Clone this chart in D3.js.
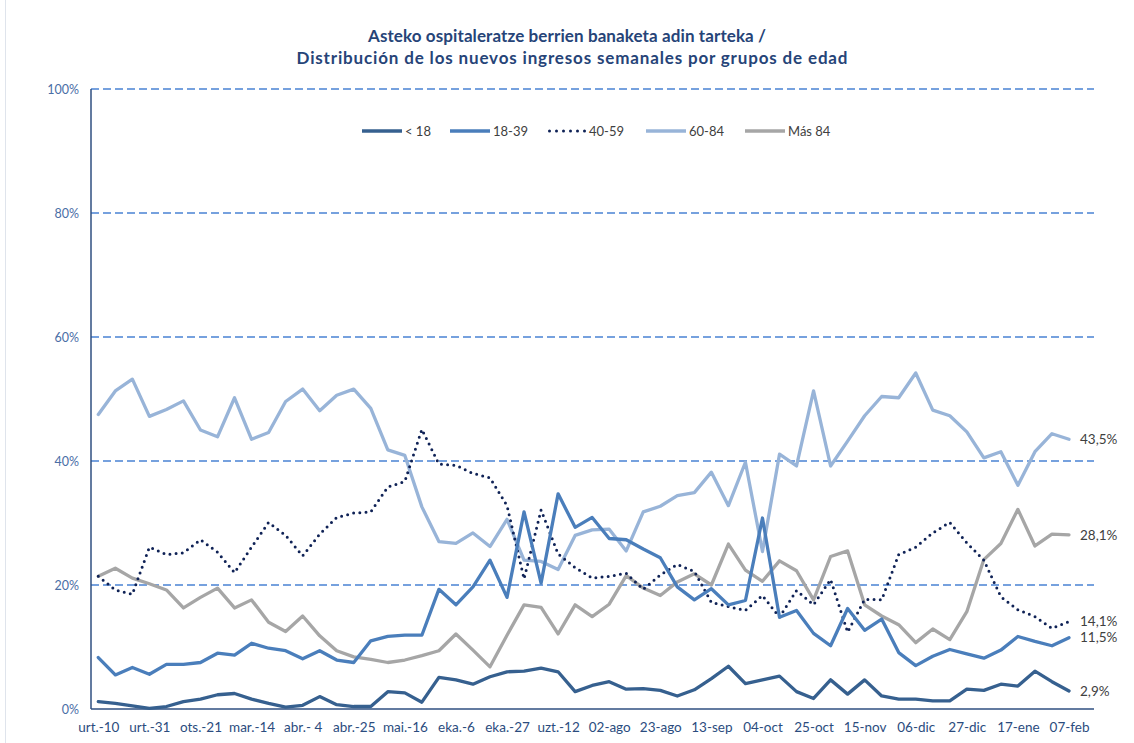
<!DOCTYPE html>
<html>
<head>
<meta charset="utf-8">
<script src="https://cdn.jsdelivr.net/npm/d3@7/dist/d3.min.js"></script>
<style>
  html, body { margin: 0; padding: 0; background: #ffffff; }
  svg { display: block; }
  text { font-family: "Lato", "Open Sans", sans-serif; }
</style>
</head>
<body>
<svg id="chart" width="1134" height="743"></svg>
<script>
// ---- DATA ----
const tickLabels = ["urt.-10","urt.-31","ots.-21","mar.-14","abr.- 4","abr.-25","mai.-16","eka.-6","eka.-27","uzt.-12",
  "02-ago","23-ago","13-sep","04-oct","25-oct","15-nov","06-dic","27-dic","17-ene","07-feb"];
const seriesNames = ["< 18", "18-39", "40-59", "60-84", "Más 84"];
const lt18 = [1.2,0.9,0.5,0.1,0.4,1.2,1.6,2.3,2.5,1.6,0.9,0.3,0.6,2.0,0.7,0.4,0.4,
  2.8,2.6,1.1,5.1,4.7,4.0,5.2,6.0,6.1,6.6,6.0,2.8,3.8,4.4,3.2,3.3,3.0,2.1,
  3.1,4.9,6.9,4.1,4.7,5.3,2.8,1.7,4.7,2.4,4.7,2.1,1.6,1.6,1.3,1.3,3.2,3.0,4.0,
  3.7,6.1,4.4,2.9];
const a18_39 = [8.3,5.5,6.7,5.6,7.2,7.2,7.5,9.0,8.7,10.6,9.8,9.4,8.1,9.4,7.9,7.5,11.0,
  11.7,11.9,11.9,19.3,16.8,19.7,24.0,18.0,31.8,20.3,34.7,29.3,30.9,27.5,27.3,25.8,24.4,19.7,
  17.6,19.4,16.8,17.5,30.8,14.8,15.9,12.2,10.2,16.2,12.7,14.5,9.1,7.0,8.5,9.6,8.9,8.2,9.5,
  11.7,10.9,10.2,11.5];
const a40_59 = [21.4,19.2,18.5,26.1,24.9,25.2,27.3,25.3,22.0,26.1,30.1,28.0,24.7,28.2,30.9,31.6,31.8,
  35.8,36.7,45.1,39.5,39.3,38.0,37.3,32.8,21.0,32.1,25.0,22.8,21.1,21.4,21.9,19.3,21.6,23.3,
  22.2,17.2,16.5,15.9,18.3,14.8,19.1,16.8,20.9,12.4,17.7,17.6,24.9,26.1,28.4,30.1,26.8,24.0,18.1,
  16.0,14.9,13.0,14.1];
const a60_84 = [47.5,51.3,53.2,47.2,48.3,49.7,45.0,43.9,50.2,43.5,44.6,49.6,51.6,48.1,50.6,51.6,48.5,
  41.8,40.9,32.6,27.0,26.7,28.4,26.2,30.6,24.0,23.8,22.5,28.0,28.9,29.0,25.5,31.8,32.7,34.4,
  34.9,38.2,32.8,39.8,25.4,41.1,39.2,51.3,39.2,43.2,47.3,50.4,50.2,54.2,48.2,47.3,44.7,40.5,41.5,
  36.1,41.5,44.4,43.5];
const mas84 = [21.4,22.7,21.1,20.2,19.2,16.3,18.0,19.5,16.3,17.6,14.0,12.5,15.0,11.8,9.4,8.4,8.0,
  7.5,7.9,8.6,9.4,12.1,9.5,6.8,11.9,16.8,16.4,12.1,16.8,14.9,16.9,21.5,19.5,18.3,20.5,
  21.8,20.0,26.6,22.4,20.6,23.9,22.3,17.6,24.6,25.5,16.8,15.0,13.6,10.7,12.9,11.2,15.7,24.1,26.7,
  32.2,26.3,28.2,28.1];
const endLabels = ["2,9%", "11,5%", "14,1%", "43,5%", "28,1%"];
const yTicks = [0, 20, 40, 60, 80, 100];
const labelEvery = 3;

// ---- STYLE / LAYOUT ----
const colors = ["#36608f", "#4a7ebb", "#0f2256", "#98b4d8", "#a6a6a6"];
const allSeries = [lt18, a18_39, a40_59, a60_84, mas84];

const svg = d3.select("#chart");
const plot = { left: 91, right: 1094, top: 89, bottom: 709 };
const nPts = lt18.length;

const x = d3.scaleLinear().domain([0, nPts - 1]).range([98.3, 1069]);
const y = d3.scaleLinear().domain([0, 100]).range([plot.bottom, plot.top]);

// faint outer border line
svg.append("line").attr("x1", 5.5).attr("x2", 5.5).attr("y1", 0).attr("y2", 743)
  .attr("stroke", "#dfe4ec").attr("stroke-width", 1);

// title
const title = svg.append("text").attr("text-anchor", "middle")
  .attr("font-size", 17).attr("font-weight", "bold").attr("fill", "#264478");
title.append("tspan").attr("x", 567).attr("y", 42).attr("textLength", 398).attr("lengthAdjust", "spacing")
  .text("Asteko ospitaleratze berrien banaketa adin tarteka /");
title.append("tspan").attr("x", 572).attr("y", 64).attr("textLength", 551).attr("lengthAdjust", "spacing")
  .text("Distribución de los nuevos ingresos semanales por grupos de edad");

// gridlines
svg.append("g").selectAll("line").data(yTicks.filter(d => d > 0)).join("line")
  .attr("x1", plot.left).attr("x2", plot.right)
  .attr("y1", d => y(d)).attr("y2", d => y(d))
  .attr("stroke", "#4a82d4").attr("stroke-width", 1.4).attr("stroke-dasharray", "8,4");

// y labels
const yAxis = svg.append("g").attr("transform", `translate(${plot.left - 12},0)`)
  .call(d3.axisLeft(y).tickValues(yTicks).tickSize(0).tickPadding(0).tickFormat(d => d + "%"));
yAxis.select(".domain").remove();
yAxis.selectAll("text").attr("font-family", "Lato, sans-serif").attr("font-size", 12.5).attr("fill", "#4a6ea6");

// x axis labels
const xAxis = svg.append("g").attr("transform", `translate(0,${plot.bottom})`)
  .call(d3.axisBottom(x).tickValues(d3.range(0, nPts, labelEvery)).tickSize(0).tickPadding(13)
    .tickFormat((d, i) => tickLabels[i]));
xAxis.select(".domain").remove();
xAxis.selectAll("text").attr("font-family", "Lato, sans-serif").attr("font-size", 13.5).attr("fill", "#2b4c7e");

// axis lines
svg.append("line").attr("x1", plot.left).attr("x2", plot.left).attr("y1", plot.top).attr("y2", plot.bottom)
  .attr("stroke", "#2f4f80").attr("stroke-width", 1.5);
svg.append("line").attr("x1", plot.left).attr("x2", plot.right).attr("y1", plot.bottom).attr("y2", plot.bottom)
  .attr("stroke", "#2f4f80").attr("stroke-width", 1.5);

// lines
const line = d3.line().x((d, i) => x(i)).y(d => y(d)).curve(d3.curveLinear);
const drawOrder = [4, 3, 2, 1, 0];
drawOrder.forEach(k => {
  const p = svg.append("path").datum(allSeries[k]).attr("d", line)
    .attr("fill", "none").attr("stroke", colors[k]).attr("stroke-linejoin", "round");
  if (k === 2) {
    p.attr("stroke-width", 3).attr("stroke-dasharray", "0,6.2").attr("stroke-linecap", "round");
  } else {
    p.attr("stroke-width", 3.3).attr("stroke-linecap", "round");
  }
});

// end labels
allSeries.forEach((s, k) => {
  svg.append("text").attr("x", x(nPts - 1) + 11).attr("y", y(s[nPts - 1])).attr("dy", "0.35em")
    .attr("font-size", 13.5).attr("fill", "#404040").text(endLabels[k]);
});

// legend
const legendX = [362, 450, 548, 646, 745];
const legendY = 131;
seriesNames.forEach((name, k) => {
  const g = svg.append("g").attr("transform", `translate(${legendX[k]},${legendY})`);
  const l = g.append("line").attr("x1", 0).attr("x2", 40).attr("y1", 0).attr("y2", 0)
    .attr("stroke", colors[k]);
  if (k === 2) {
    l.attr("x1", 1.5).attr("x2", 37).attr("stroke-width", 3).attr("stroke-dasharray", "0,7").attr("stroke-linecap", "round");
  } else {
    l.attr("stroke-width", 3.3);
  }
  g.append("text").attr("x", k === 2 ? 41 : 43).attr("y", 0).attr("dy", "0.35em")
    .attr("font-size", 13).attr("fill", "#404040").text(name);
});
</script>
</body>
</html>
